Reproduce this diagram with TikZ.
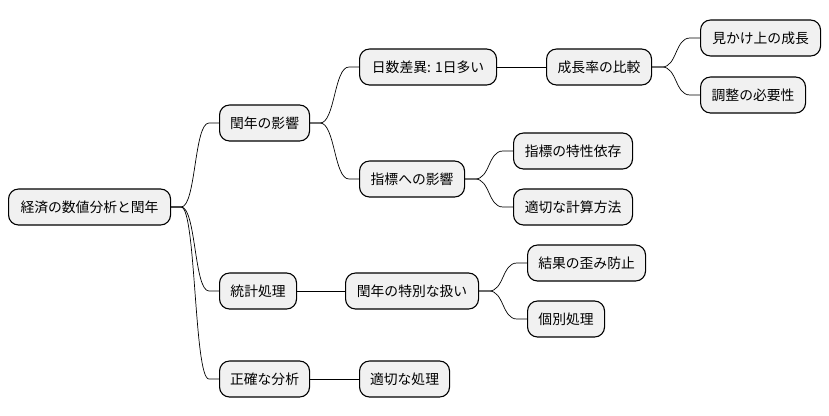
\documentclass[tikz,border=0pt]{standalone}
\usepackage{fontspec}
\setmainfont{Noto Sans CJK JP}
\begin{document}
\begin{tikzpicture}[x=1pt,y=1pt,
  mbox/.style={draw=black,line width=1.1pt,fill={rgb,255:red,241;green,241;blue,241},
    rounded corners=10pt,minimum height=36pt,inner sep=0pt,anchor=west,
    font=\fontsize{13.8}{16}\selectfont},
  link/.style={draw=black,line width=0.7pt}]
\useasboundingbox (0,0) rectangle (829,-415);
\node[mbox,minimum width=162pt] (root) at (8,-207) {経済の数値分析と閏年};
\node[mbox,minimum width=90pt] (a) at (219,-123) {閏年の影響};
\node[mbox,minimum width=77pt] (b) at (219,-291) {統計処理};
\node[mbox,minimum width=90pt] (c) at (219,-379) {正確な分析};
\node[mbox,minimum width=137pt] (a1) at (359,-67) {日数差異: 1日多い};
\node[mbox,minimum width=105pt] (a2) at (359,-179) {指標への影響};
\node[mbox,minimum width=105pt] (a11) at (546,-67) {成長率の比較};
\node[mbox,minimum width=120pt] (a111) at (700,-38) {見かけ上の成長};
\node[mbox,minimum width=105pt] (a112) at (700,-95) {調整の必要性};
\node[mbox,minimum width=119pt] (a21) at (513,-151) {指標の特性依存};
\node[mbox,minimum width=119pt] (a22) at (513,-207) {適切な計算方法};
\node[mbox,minimum width=133pt] (b1) at (345,-291) {閏年の特別な扱い};
\node[mbox,minimum width=118pt] (b11) at (527,-263) {結果の歪み防止};
\node[mbox,minimum width=77pt] (b12) at (527,-319) {個別処理};
\node[mbox,minimum width=90pt] (c1) at (359,-379) {適切な処理};
\foreach \p/\c in {root/a,root/b,root/c,a/a1,a/a2,a11/a111,a11/a112,a2/a21,a2/a22,b1/b11,b1/b12}{
  \draw[link] (\p.east) -- ([xshift=10pt]\p.east)
    .. controls ([xshift=25pt]\p.east) and ([xshift=-25pt]\c.west) .. ([xshift=-10pt]\c.west) -- (\c.west);
}
\foreach \p/\c in {a1/a11,b/b1,c/c1}{
  \draw[link] (\p.east) -- (\c.west);
}
\end{tikzpicture}
\end{document}
